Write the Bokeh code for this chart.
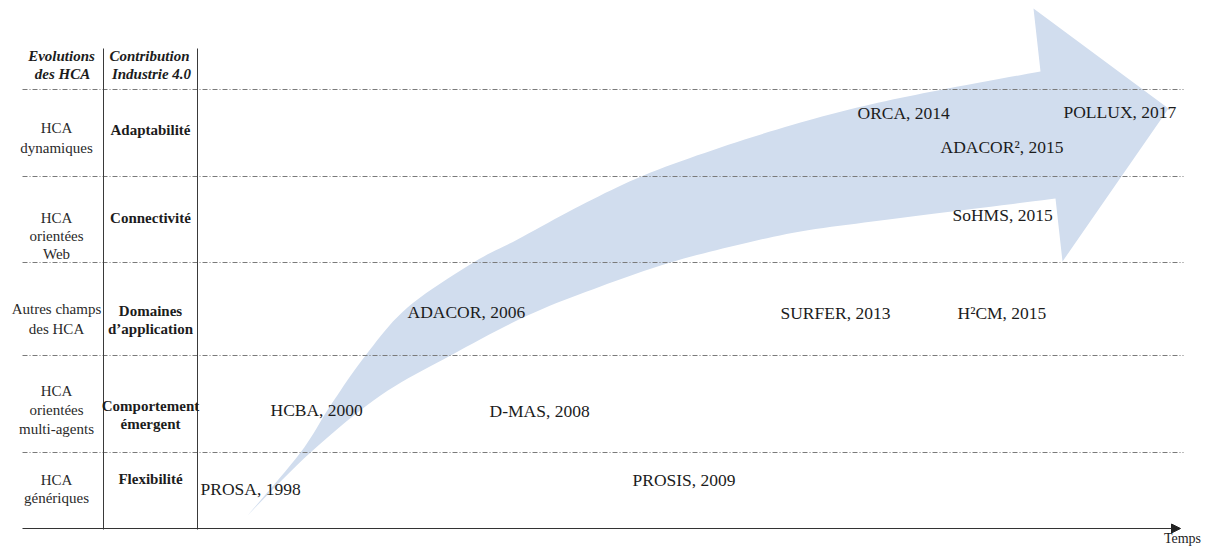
from bokeh.plotting import figure
from bokeh.models import Range1d, Arrow, NormalHead
from bokeh.core.properties import value
from bokeh.embed import file_html
from bokeh.resources import INLINE

# ---------------- data ----------------
header_evolutions = ["Evolutions", "des HCA"]
header_contribution = ["Contribution", "Industrie 4.0"]

row_evolutions = [
    ["HCA", "dynamiques"],
    ["HCA", "orientées", "Web"],
    ["Autres champs", "des HCA"],
    ["HCA", "orientées", "multi-agents"],
    ["HCA", "génériques"],
]
row_contributions = [
    ["Adaptabilité"],
    ["Connectivité"],
    ["Domaines", "d\u2019application"],
    ["Comportement", "émergent"],
    ["Flexibilité"],
]

systems = ["PROSA", "HCBA", "ADACOR", "D-MAS", "PROSIS", "SURFER",
           "ORCA", "H\u00b2CM", "SoHMS", "ADACOR\u00b2", "POLLUX"]
years = [1998, 2000, 2006, 2008, 2009, 2013, 2014, 2015, 2015, 2015, 2017]
# position of each label along the time axis (diagram units)
system_time_pos = [200, 270, 407, 489, 632, 780, 857, 957, 952, 940, 1063]
system_row_y = [488, 409, 311, 410, 479, 312, 112, 312, 214, 146, 111]

axis_label = "Temps"

# ---------------- layout ----------------
row_edges = [89, 176, 262, 355, 452]
axis_y = 528
col_lines_x = [103, 197]
evo_x = 56
contrib_x = 150
evo_line_y = [[127, 147], [217, 235, 253], [308, 328], [390, 409, 428], [479, 497]]
contrib_line_y = [[129], [217], [310, 328], [405, 423], [478]]

# big curved arrow outline: outer edge (tail -> notch), head, inner edge (notch -> tail)
arrow_outer = [(247, 515), (300, 452), (330, 405), (365, 355), (407, 307),
               (473, 262), (517, 239), (580, 205), (643, 175), (720, 147),
               (800, 122), (870, 104), (947, 88), (1040, 71)]
arrow_head = [(1033, 8), (1168, 108), (1062, 261), (1055, 198)]
arrow_inner = [(1055, 198), (960, 210), (880, 220), (800, 231), (735, 245),
               (670, 262), (600, 286), (527, 315), (450, 355), (380, 395),
               (310, 452), (247, 515)]


def smooth(pts, n=10):
    """Catmull-Rom sampling of an outline edge (shape drawing only)."""
    out = []
    ext = [pts[0]] + pts + [pts[-1]]
    for i in range(1, len(ext) - 2):
        p0, p1, p2, p3 = ext[i - 1], ext[i], ext[i + 1], ext[i + 2]
        for k in range(n):
            t = k / n
            t2, t3 = t * t, t * t * t
            x = 0.5 * (2 * p1[0] + (-p0[0] + p2[0]) * t + (2 * p0[0] - 5 * p1[0] + 4 * p2[0] - p3[0]) * t2
                       + (-p0[0] + 3 * p1[0] - 3 * p2[0] + p3[0]) * t3)
            y = 0.5 * (2 * p1[1] + (-p0[1] + p2[1]) * t + (2 * p0[1] - 5 * p1[1] + 4 * p2[1] - p3[1]) * t2
                       + (-p0[1] + 3 * p1[1] - 3 * p2[1] + p3[1]) * t3)
            out.append((x, y))
    out.append(pts[-1])
    return out


outline = smooth(arrow_outer) + arrow_head + smooth(arrow_inner)[1:]

FONT = value("Liberation Serif")
TXT = "#1c1c1c"

p = figure(width=1206, height=546, x_range=Range1d(0, 1206), y_range=Range1d(546, 0),
           output_backend="svg", toolbar_location=None, min_border=0,
           x_axis_type=None, y_axis_type=None)
p.grid.visible = False
p.outline_line_color = None
p.background_fill_color = "white"

# arrow shape
p.patch([pt[0] for pt in outline], [pt[1] for pt in outline],
        fill_color="#d1ddee", line_color=None)

# dashed row separators
p.segment(x0=[22] * len(row_edges), y0=row_edges, x1=[1183] * len(row_edges), y1=row_edges,
          line_color="#7a7a7a", line_width=1, line_dash="5 2 1 2")

# column separators
p.segment(x0=col_lines_x, y0=[48, 48], x1=col_lines_x, y1=[axis_y + 1, axis_y + 1],
          line_color="#3a3a3a", line_width=1)

# time axis
p.add_layout(Arrow(end=NormalHead(size=9, fill_color="#222222", line_color="#222222"),
                   x_start=22, y_start=axis_y, x_end=1180, y_end=axis_y,
                   line_color="#333333", line_width=1.2))
p.text(x=[1182], y=[538], text=[axis_label], text_font=FONT, text_font_size="14px",
       text_align="center", text_baseline="middle", text_color=TXT)

# headers
p.text(x=[61, 62], y=[55, 73], text=header_evolutions, text_font=FONT,
       text_font_size="15px", text_font_style="bold italic", text_align="center",
       text_baseline="middle", text_color=TXT)
p.text(x=[149, 151], y=[55, 73], text=header_contribution, text_font=FONT,
       text_font_size="15px", text_font_style="bold italic", text_align="center",
       text_baseline="middle", text_color=TXT)

# row labels
ex, ey, et = [], [], []
for lines, ys in zip(row_evolutions, evo_line_y):
    for t, y in zip(lines, ys):
        ex.append(evo_x); ey.append(y); et.append(t)
p.text(x=ex, y=ey, text=et, text_font=FONT, text_font_size="15px",
       text_align="center", text_baseline="middle", text_color="#2a2a2a")

cx, cy, ct = [], [], []
for lines, ys in zip(row_contributions, contrib_line_y):
    for t, y in zip(lines, ys):
        cx.append(contrib_x); cy.append(y); ct.append(t)
p.text(x=cx, y=cy, text=ct, text_font=FONT, text_font_size="15px",
       text_font_style="bold", text_align="center", text_baseline="middle", text_color=TXT)

# systems
labels = [f"{s}, {y}" for s, y in zip(systems, years)]
p.text(x=system_time_pos, y=system_row_y, text=labels, text_font=FONT,
       text_font_size="17.5px", text_align="left", text_baseline="middle", text_color=TXT)

open("out.html", "w").write(file_html(p, INLINE))
